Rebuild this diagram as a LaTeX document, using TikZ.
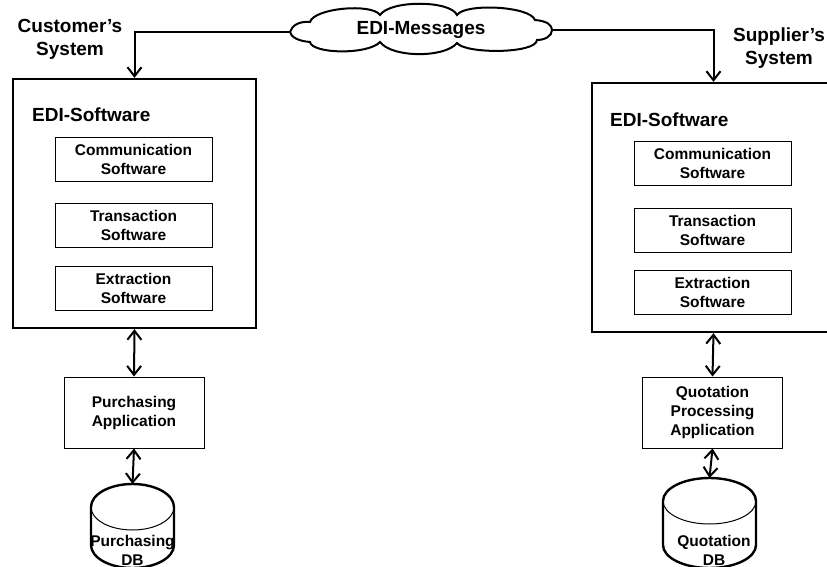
\documentclass[tikz,border=0pt]{standalone}
\usepackage{fontspec}
\setmainfont{Liberation Sans}
\usetikzlibrary{arrows.meta,positioning}

\tikzset{
  big/.style={font=\fontsize{19}{23}\selectfont\bfseries, align=center, inner sep=0pt},
  small/.style={font=\fontsize{15.5}{19}\selectfont\bfseries, align=center, inner sep=0pt},
  edibox/.style={draw, line width=2.3pt, minimum width=243pt, minimum height=249pt},
  swbox/.style={draw, small, line width=0.8pt, minimum width=157pt, minimum height=44pt},
  appbox/.style={draw, small, line width=1pt, minimum width=140pt, minimum height=71pt},
  dbline/.style={line width=2.4pt},
  link/.style={line width=2pt, -{Straight Barb[length=9pt,width=14pt]}},
  dlink/.style={line width=2pt, {Straight Barb[length=9pt,width=14pt]}-{Straight Barb[length=9pt,width=14pt]}}
}

\begin{document}
\begin{tikzpicture}[x=1pt, y=-1pt]
\clip (0,0) rectangle (827,567);

% messages between the two systems
\node [big] (msgs) at (421,30) {EDI-Messages};
\coordinate (msgsL) at (290,32);
\coordinate (msgsR) at (552,30);
\draw [line width=2pt] (msgsL) .. controls (292,25) and (300,21) .. (310,22)
  .. controls (314,8) and (372,3) .. (380,15)
  .. controls (390,0) and (450,0) .. (457,15)
  .. controls (465,3) and (530,6) .. (535,20)
  .. controls (547,21) and (552,25) .. (msgsR)
  .. controls (552,36) and (545,40) .. (537,40)
  .. controls (536,54) and (465,54) .. (457,43)
  .. controls (445,58) and (392,58) .. (380,42)
  .. controls (368,55) and (312,54) .. (310,42)
  .. controls (298,41) and (291,37) .. (msgsL) -- cycle;

% customer side
\node [big] (custsys) at (70,39) {Customer’s\\System};
\node [edibox] (ediL) at (134.5,203.5) {};
\node [big, anchor=west] (ediLtitle) at (32,115) {EDI-Software};
\node [swbox] (commL) at (133.5,159) {Communication\\Software};
\node [swbox] (transL) at (133.5,225.5) {Transaction\\Software};
\node [swbox] (extrL) at (133.5,288) {Extraction\\Software};
\node [appbox] (purch) at (134,412.5) {Purchasing\\Application};
\coordinate (purchdb) at (132.5,484);
\draw [dbline] (91,507) arc (180:360:41.5 and 23) -- (174,545) arc (0:180:41.5 and 23) -- cycle;
\draw [line width=1pt] (91,507) arc (180:0:41.5 and 23);
\node [small] (purchdblbl) at (132.5,550) {Purchasing\\DB};

% supplier side
\node [big] (supsys) at (779,48) {Supplier’s\\System};
\node [edibox] (ediR) at (713.5,207.5) {};
\node [big, anchor=west] (ediRtitle) at (610,120) {EDI-Software};
\node [swbox] (commR) at (712.5,163.5) {Communication\\Software};
\node [swbox] (transR) at (712.5,230) {Transaction\\Software};
\node [swbox] (extrR) at (712.5,292.5) {Extraction\\Software};
\node [appbox] (quot) at (712.5,412.5) {Quotation\\Processing\\Application};
\coordinate (quotdb) at (709.5,478);
\draw [dbline] (663,501) arc (180:360:46.5 and 23) -- (756,545) arc (0:180:46.5 and 23) -- cycle;
\draw [line width=1pt] (663,501) arc (180:0:46.5 and 23);
\node [small] (quotdblbl) at (714,550) {Quotation\\DB};

\draw [link] (msgsL) -| (ediL.north);
\draw [link] (msgsR) -| (ediR.north);
\draw [dlink] (ediL.south) -- (purch.north);
\draw [dlink] (purch.south) -- (purchdb);
\draw [dlink] (ediR.south) -- (quot.north);
\draw [dlink] (quot.south) -- (quotdb);

\end{tikzpicture}
\end{document}
